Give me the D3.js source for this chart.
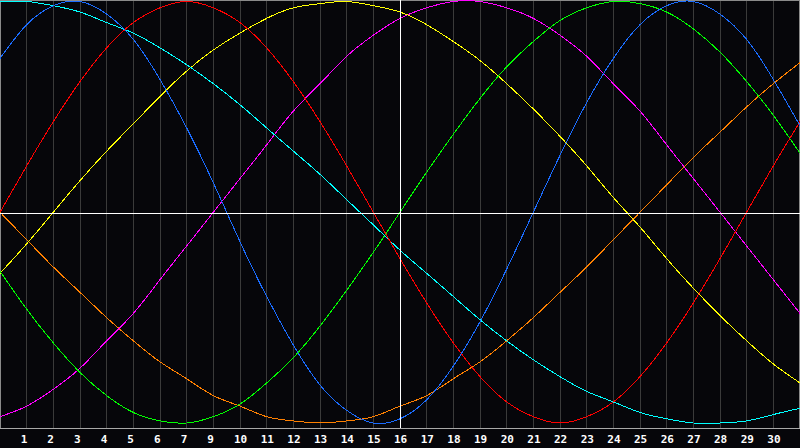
<!DOCTYPE html>
<html>
<head>
<meta charset="utf-8">
<script src="https://cdn.jsdelivr.net/npm/d3@7"></script>
<style>
  html, body { margin: 0; padding: 0; background: #06060a; }
  .tick-label { font-family: "DejaVu Sans Mono", monospace; font-weight: bold; font-size: 11px; fill: #ffffff; }
</style>
</head>
<body>
<div id="chart"></div>
<script>
var width = 800;
var height = 448;
var plotBottom = 428;

//Days along the bottom (the reference skips "8")
var days = d3.range(0, 31);
var tickLabels = ["1","2","3","4","5","6","7","9","10","11","12","13","14","15","16",
	"17","18","19","20","21","22","23","24","25","26","27","28","29","30"];
var todayIndex = 15;

//Cycle values per day (-1 .. 1)
var redValues = [0, 0.22, 0.43, 0.62, 0.78, 0.90, 0.97, 1.00, 0.97, 0.90, 0.78, 0.62, 0.43, 0.22, 0,
	-0.22, -0.43, -0.62, -0.78, -0.90, -0.97, -1.00, -0.97, -0.90, -0.78, -0.62, -0.43, -0.22, 0, 0.22, 0.43];
var blueValues = [0.73, 0.89, 0.98, 1.00, 0.94, 0.82, 0.63, 0.40, 0.14, -0.14, -0.40, -0.63, -0.82, -0.94, -1.00,
	-0.98, -0.89, -0.73, -0.52, -0.27, 0, 0.27, 0.52, 0.73, 0.89, 0.98, 1.00, 0.94, 0.82, 0.63, 0.41];
var cyanValues = [1.00, 1.00, 0.98, 0.95, 0.90, 0.85, 0.78, 0.70, 0.61, 0.51, 0.40, 0.29, 0.18, 0.06, -0.06,
	-0.18, -0.29, -0.40, -0.51, -0.61, -0.70, -0.78, -0.85, -0.90, -0.95, -0.98, -1.00, -1.00, -0.99, -0.96, -0.93];
var yellowValues = [-0.29, -0.15, 0, 0.15, 0.29, 0.42, 0.55, 0.67, 0.77, 0.85, 0.92, 0.97, 0.99, 1.00, 0.98,
	0.95, 0.89, 0.81, 0.72, 0.61, 0.49, 0.36, 0.22, 0.07, -0.07, -0.22, -0.36, -0.49, -0.61, -0.72, -0.81];
var magentaValues = [-0.97, -0.92, -0.84, -0.74, -0.61, -0.48, -0.32, -0.16, 0, 0.16, 0.32, 0.48, 0.61, 0.74, 0.84,
	0.92, 0.97, 1.00, 1.00, 0.97, 0.92, 0.84, 0.74, 0.61, 0.48, 0.32, 0.16, 0, -0.16, -0.32, -0.48];
var greenValues = [-0.28, -0.46, -0.62, -0.76, -0.87, -0.95, -0.99, -1.00, -0.97, -0.91, -0.81, -0.69, -0.54, -0.37, -0.19,
	0, 0.19, 0.37, 0.54, 0.69, 0.81, 0.91, 0.97, 1.00, 0.99, 0.95, 0.87, 0.76, 0.62, 0.46, 0.28];
var orangeValues = [0, -0.13, -0.26, -0.38, -0.50, -0.61, -0.71, -0.79, -0.87, -0.92, -0.97, -0.99, -1.00, -0.99, -0.97,
	-0.92, -0.87, -0.79, -0.71, -0.61, -0.50, -0.38, -0.26, -0.13, 0, 0.13, 0.26, 0.38, 0.50, 0.61, 0.71];

var seriesList = [
	{ values: orangeValues,  color: "#ff8000" },
	{ values: magentaValues, color: "#ff00ff" },
	{ values: yellowValues,  color: "#ffff00" },
	{ values: greenValues,   color: "#00ff00" },
	{ values: cyanValues,    color: "#00ffff" },
	{ values: redValues,     color: "#ff0000" },
	{ values: blueValues,    color: "#1a6cff" }
];

var x = d3.scaleLinear().domain([0, 30]).range([0, width]);
var y = d3.scaleLinear().domain([-1, 1]).range([423, 1.5]);

//SVG container
var svg = d3.select("#chart")
	.append("svg")
	.attr("width", width)
	.attr("height", height)
	.style("display", "block");

svg.append("rect")
	.attr("width", width)
	.attr("height", height)
	.attr("fill", "#06060a");

svg.append("clipPath")
	.attr("id", "plot-clip")
	.append("rect")
	.attr("x", 0).attr("y", 0)
	.attr("width", width).attr("height", plotBottom);

///////////////////////////////////////////////////////////////////////////
///////////////////////////// Grid and frame //////////////////////////////
///////////////////////////////////////////////////////////////////////////

var gridDays = d3.range(1, 30);

svg.append("g")
	.selectAll("line")
	.data(gridDays)
	.enter().append("line")
	.attr("x1", function(d) { return Math.floor(x(d)) + 0.5; })
	.attr("x2", function(d) { return Math.floor(x(d)) + 0.5; })
	.attr("y1", 0)
	.attr("y2", plotBottom)
	.attr("stroke", "#3a3a3a")
	.attr("stroke-width", 1);

//frame
svg.append("line").attr("x1", 0.5).attr("x2", 0.5).attr("y1", 0).attr("y2", plotBottom)
	.attr("stroke", "#8a8a8a");
svg.append("line").attr("x1", width - 0.5).attr("x2", width - 0.5).attr("y1", 0).attr("y2", plotBottom)
	.attr("stroke", "#8a8a8a");
svg.append("line").attr("x1", 0).attr("x2", width).attr("y1", 0.5).attr("y2", 0.5)
	.attr("stroke", "#8a8a8a");
svg.append("line").attr("x1", 0).attr("x2", width).attr("y1", plotBottom + 0.5).attr("y2", plotBottom + 0.5)
	.attr("stroke", "#a8a8a8");

///////////////////////////////////////////////////////////////////////////
//////////////////////////////// Curves ///////////////////////////////////
///////////////////////////////////////////////////////////////////////////

var line = d3.line()
	.x(function(d, i) { return x(days[i]); })
	.y(function(d) { return y(d); })
	.curve(d3.curveNatural);

svg.append("g")
	.attr("clip-path", "url(#plot-clip)")
	.selectAll("path")
	.data(seriesList)
	.enter().append("path")
	.attr("d", function(s) { return line(s.values); })
	.attr("fill", "none")
	.attr("stroke", function(s) { return s.color; })
	.attr("stroke-width", 1)
	.style("shape-rendering", "crispEdges");

//zero line and today line
svg.append("line")
	.attr("x1", 0).attr("x2", width)
	.attr("y1", Math.floor(y(0)) + 1.5).attr("y2", Math.floor(y(0)) + 1.5)
	.attr("stroke", "#ffffff");
svg.append("line")
	.attr("x1", Math.floor(x(todayIndex)) + 0.5).attr("x2", Math.floor(x(todayIndex)) + 0.5)
	.attr("y1", 0).attr("y2", plotBottom)
	.attr("stroke", "#ffffff");

///////////////////////////////////////////////////////////////////////////
////////////////////////////// Day labels /////////////////////////////////
///////////////////////////////////////////////////////////////////////////

svg.append("g")
	.selectAll("text")
	.data(tickLabels)
	.enter().append("text")
	.attr("class", "tick-label")
	.attr("x", function(d, i) { return x(gridDays[i]) - 6; })
	.attr("y", 443)
	.text(function(d) { return d; });
</script>
</body>
</html>
